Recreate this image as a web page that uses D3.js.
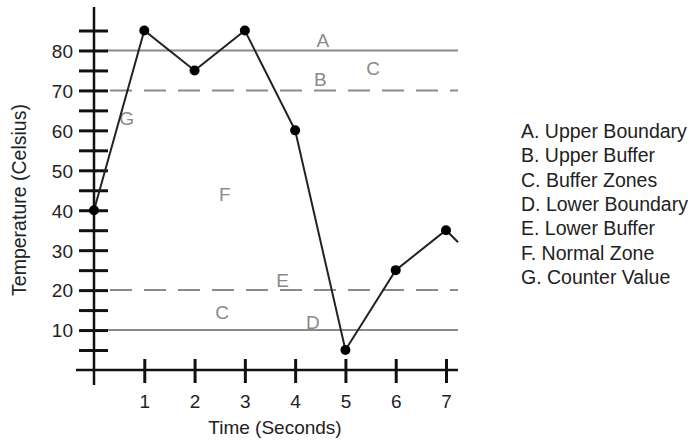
<!DOCTYPE html>
<html><head><meta charset="utf-8">
<script src="https://cdn.jsdelivr.net/npm/d3@7"></script>
<style>body{margin:0;background:#fff}svg{display:block}</style>
</head><body>
<script>
const times = [0, 1, 2, 3, 4, 5, 6, 7];
const temps = [40, 85, 75, 85, 60, 5, 25, 35];
const tailTime = [7.24];
const tailTemp = [32];
const xTicks = [1, 2, 3, 4, 5, 6, 7];
const yTickValues = [5,10,15,20,25,30,35,40,45,50,55,60,65,70,75,80,85];
const yTickLabels = [10,20,30,40,50,60,70,80];
const refLines = [
  {value: 80, dashed: false},
  {value: 70, dashed: true},
  {value: 20, dashed: true},
  {value: 10, dashed: false}
];
const zoneLabels = [
  {text: "A", t: 4.55, v: 82.5},
  {text: "C", t: 5.55, v: 75.5},
  {text: "B", t: 4.5, v: 72.7},
  {text: "G", t: 0.65, v: 63},
  {text: "F", t: 2.6, v: 44},
  {text: "E", t: 3.75, v: 22.3},
  {text: "C", t: 2.55, v: 14.5},
  {text: "D", t: 4.35, v: 12}
];
const legendItems = ["A. Upper Boundary","B. Upper Buffer","C. Buffer Zones","D. Lower Boundary","E. Lower Buffer","F. Normal Zone","G. Counter Value"];

const W = 691, H = 440;
const svg = d3.select("body").append("svg").attr("width", W).attr("height", H);
const x = d3.scaleLinear().domain([0, 7]).range([94, 446]);
const y = d3.scaleLinear().domain([0, 85]).range([370, 30.5]);
const font = "'Liberation Sans', Arial, sans-serif";
const gray = "#8a8a8a";
const fs = 19;

// reference lines
refLines.forEach(r => {
  svg.append("line").attr("x1", 107).attr("x2", 458)
    .attr("y1", y(r.value)).attr("y2", y(r.value))
    .attr("stroke", gray).attr("stroke-width", 2)
    .attr("stroke-dasharray", r.dashed ? "22,12" : null)
    .attr("stroke-dashoffset", r.dashed ? -3 : 0);
});

// zone labels
zoneLabels.forEach(z => {
  svg.append("text").attr("x", x(z.t)).attr("y", y(z.v))
    .attr("text-anchor", "middle").attr("dominant-baseline", "central")
    .attr("font-family", font).attr("font-size", fs).attr("fill", gray)
    .text(z.text);
});

// axes lines
svg.append("line").attr("x1", x(0)).attr("x2", x(0)).attr("y1", 7).attr("y2", 385)
  .attr("stroke", "#111").attr("stroke-width", 2.5);
svg.append("line").attr("x1", 76).attr("x2", 458).attr("y1", y(0)).attr("y2", y(0))
  .attr("stroke", "#111").attr("stroke-width", 2.5);

// y ticks
const yAxis = d3.axisLeft(y).tickValues(yTickValues).tickSize(0).tickFormat(d => yTickLabels.includes(d) ? d : "");
const gy = svg.append("g").attr("transform", `translate(${x(0)},0)`).call(yAxis);
gy.select(".domain").remove();
gy.selectAll(".tick").append("line").attr("x1", -15).attr("x2", 14).attr("stroke", "#111").attr("stroke-width", 3);
gy.selectAll(".tick text").attr("x", -21).attr("dy", "0.36em").attr("font-family", font).attr("font-size", fs).attr("fill", "#222");

// x ticks
const xAxis = d3.axisBottom(x).tickValues(xTicks).tickSize(0).tickFormat(d3.format("d"));
const gx = svg.append("g").attr("transform", `translate(0,${y(0)})`).call(xAxis);
gx.select(".domain").remove();
gx.selectAll(".tick").append("line").attr("y1", -11).attr("y2", 13).attr("stroke", "#111").attr("stroke-width", 3);
gx.selectAll(".tick text").attr("y", 38).attr("dy", 0).attr("font-family", font).attr("font-size", fs).attr("fill", "#222");

// data line
const pts = times.map((t, i) => [t, temps[i]]);
const linePts = pts.concat(tailTime.map((t, i) => [t, tailTemp[i]]));
svg.append("path").datum(linePts)
  .attr("d", d3.line().x(d => x(d[0])).y(d => y(d[1])))
  .attr("fill", "none").attr("stroke", "#222").attr("stroke-width", 2);
svg.selectAll("circle.pt").data(pts).enter().append("circle")
  .attr("cx", d => x(d[0])).attr("cy", d => y(d[1])).attr("r", 5).attr("fill", "#000");

// axis titles
svg.append("text").attr("transform", "translate(26,200) rotate(-90)")
  .attr("text-anchor", "middle").attr("font-family", font).attr("font-size", 19.5).attr("fill", "#222")
  .text("Temperature (Celsius)");
svg.append("text").attr("x", 275).attr("y", 434)
  .attr("text-anchor", "middle").attr("font-family", font).attr("font-size", fs).attr("fill", "#222")
  .text("Time (Seconds)");

// legend
svg.selectAll("text.leg").data(legendItems).enter().append("text")
  .attr("x", 521).attr("y", (d, i) => 138 + i * 24.3)
  .attr("font-family", font).attr("font-size", 19.5).attr("fill", "#222")
  .text(d => d);
</script>
</body></html>
